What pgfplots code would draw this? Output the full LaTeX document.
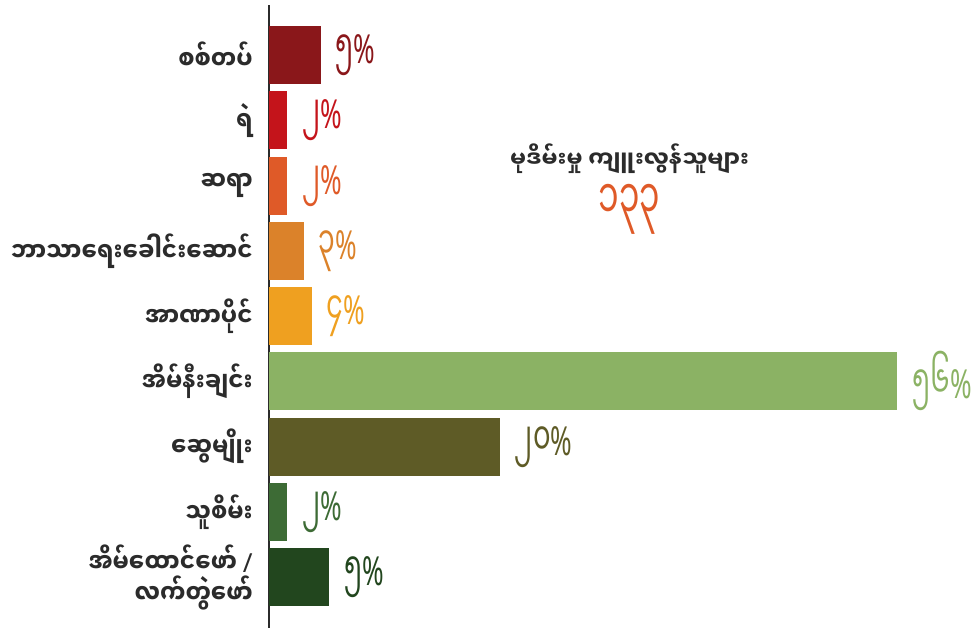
\documentclass[border=0pt]{standalone}
\usepackage{pgfplots}
\pgfplotsset{compat=1.18}
\usepackage{fontspec}
\setmainfont{Noto Sans}
\newfontfamily\mm[Script=Myanmar]{Noto Sans Myanmar UI}
\newfontfamily\mmn[Script=Myanmar, FakeStretch=0.87]{Noto Sans Myanmar UI}
\newfontfamily\mmd[Script=Myanmar, FakeStretch=0.6]{Noto Sans Myanmar UI}
\newfontfamily\pcf[FakeStretch=0.65]{Noto Sans}
\definecolor{c1}{HTML}{8A171A}
\definecolor{c2}{HTML}{C4141B}
\definecolor{c3}{HTML}{DF5A28}
\definecolor{c4}{HTML}{DB822A}
\definecolor{c5}{HTML}{EFA020}
\definecolor{c6}{HTML}{8BB264}
\definecolor{c7}{HTML}{5E5B26}
\definecolor{c8}{HTML}{3D6B35}
\definecolor{c9}{HTML}{22461E}
\definecolor{txt}{HTML}{2B2B2B}
\newcommand\pc{{\pcf\fontsize{16}{16}\selectfont\%}}
\pgfplotsset{
  mybar/.style={xbar, bar shift=0pt, bar width=23.2pt, draw=none, fill=#1,
    nodes near coords, point meta=explicit symbolic,
    nodes near coords style={anchor=west, xshift=2.5pt, text=#1,
      font=\mmd\fontsize{18}{18}\selectfont}}
}
\begin{document}
\begin{tikzpicture}
\path[use as bounding box] (0,0) rectangle (389.2pt,252pt);
\begin{axis}[
  at={(107.6pt,0.8pt)}, anchor=south west,
  scale only axis, width=281.6pt, height=249.2pt,
  xmin=0, xmax=62.86, ymin=-0.77, ymax=8.78, y dir=reverse,
  axis x line=none, axis y line*=left,
  y axis line style={draw=txt, line width=0.8pt},
  xtick=\empty, ytick={0,...,8},
  major tick length=0pt,
  yticklabels={စစ်တပ်, ရဲ, ဆရာ, ဘာသာရေးခေါင်းဆောင်, အာဏာပိုင်, အိမ်နီးချင်း, ဆွေမျိုး, သူစိမ်း, {အိမ်ထောင်ဖော် {\rmfamily\bfseries /}\\လက်တွဲဖော်}},
  yticklabel style={font=\mmn\bfseries\fontsize{10.5}{12.5}\selectfont, text=txt, align=right, xshift=-3pt},
  clip=false,
]
\addplot[mybar=c1] coordinates {(4.6,0) [၅\pc]};
\addplot[mybar=c2] coordinates {(1.6,1) [၂\pc]};
\addplot[mybar=c3] coordinates {(1.6,2) [၂\pc]};
\addplot[mybar=c4] coordinates {(3.1,3) [၃\pc]};
\addplot[mybar=c5] coordinates {(3.8,4) [၄\pc]};
\addplot[mybar=c6] coordinates {(56.1,5) [၅၆\pc]};
\addplot[mybar=c7] coordinates {(20.6,6) [၂၀\pc]};
\addplot[mybar=c8] coordinates {(1.6,7) [၂\pc]};
\addplot[mybar=c9] coordinates {(5.4,8) [၅\pc]};
\node[font=\mm\bfseries\fontsize{9}{11}\selectfont, text=txt] at (axis cs:32.2,1.58) {မုဒိမ်းမှု ကျူးလွန်သူများ};
\node[font=\mmd\fontsize{22}{22}\selectfont, text=c3] at (axis cs:32.2,2.37) {၁၃၃};
\end{axis}
\end{tikzpicture}
\end{document}
